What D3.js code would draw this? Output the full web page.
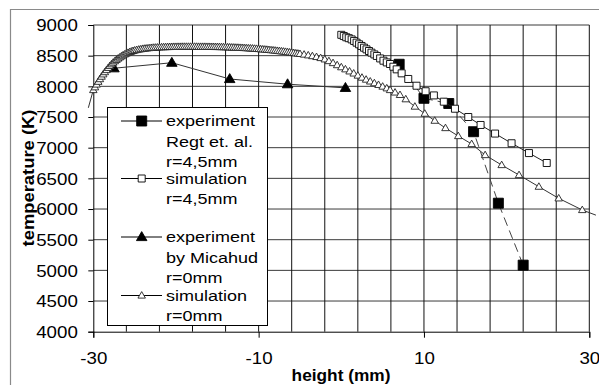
<!DOCTYPE html>
<html><head><meta charset="utf-8">
<script src="https://cdn.jsdelivr.net/npm/d3@7"></script>
<style>body{margin:0;background:#fff}svg{display:block}text{font-family:"Liberation Sans",Arial,sans-serif;fill:#000}</style>
</head><body><svg id="c" width="599" height="385"></svg>
<script>
// ---- data ----
const regtX = [7, 10, 13, 16, 19, 22];
const regtT = [8360, 7805, 7720, 7260, 6095, 5085];

const simR45X = [0.0,0.3,0.6,0.9,1.25,1.55,1.85,2.15,2.45,2.75,3.05,3.35,3.65,4.0,4.3,4.7,5.1,5.5,5.9,6.3,6.7,7.3,8.1,9.1,10.2,11.2,12.4,13.75,15.36,16.85,18.6,20.6,22.7,24.85];
const simR45T = [8840,8820,8800,8785,8765,8740,8712,8685,8658,8630,8603,8576,8549,8520,8495,8455,8418,8390,8364,8320,8277,8212,8120,8010,7920,7852,7750,7635,7500,7370,7230,7072,6912,6750];

const micX = [-27.5, -20.5, -13.5, -6.5, 0.5];
const micT = [8295, 8385, 8120, 8035, 7975];

const simR0X = [-30.6,-30.0,-29.8,-29.6,-29.4,-29.2,-29.0,-28.8,-28.6,-28.4,-28.2,-28.0,-27.8,-27.6,-27.4,-27.2,-27.0,-26.8,-26.6,-26.4,-26.2,-26.0,-25.8,-25.6,-25.4,-25.2,
 -25.0,-24.75,-24.5,-24.25,-24.0,-23.75,-23.5,-23.25,-23.0,-22.75,-22.5,-22.25,-22.0,-21.75,-21.5,-21.25,-21.0,-20.75,-20.5,-20.25,-20.0,-19.75,-19.5,-19.25,-19.0,-18.75,-18.5,-18.25,-18.0,-17.75,-17.5,-17.25,-17.0,-16.75,-16.5,-16.25,-16.0,-15.75,-15.5,-15.25,-15.0,-14.75,-14.5,-14.25,-14.0,-13.75,-13.5,-13.25,-13.0,-12.75,-12.5,-12.25,-12.0,-11.75,-11.5,-11.25,-11.0,-10.75,-10.5,-10.25,-10.0,-9.75,-9.5,-9.25,-9.0,-8.75,-8.5,-8.25,-8.0,-7.75,-7.5,-7.25,-7.0,-6.75,-6.5,-6.25,-6.0,-5.75,-5.5,-5.25,-5.0,
 -4.5,-4.0,-3.5,-3.0,-2.5,-2.0,-1.5,-1.0,-0.5,0.0,0.5,1.0,1.5,2.0,2.5,3.0,3.5,4.0,4.5,5.0,5.5,5.9,6.5,7.1,7.8,8.9,10.1,11.3,12.6,14.15,15.77,17.4,19.4,21.5,23.9,26.3,29.15,30.8];
const simR0T = [7650,7940,7985,8030,8075,8118,8158,8196,8232,8266,8300,8332,8360,8386,8410,8432,8453,8472,8490,8506,8521,8535,8547,8558,8568,8577,
 8585,8593,8600,8606,8612,8616,8620,8624,8627,8630,8632,8634,8636,8638,8639,8640,8641,8642,8643,8644,8644,8645,8645,8646,8646,8646,8646,8646,8646,8646,8646,8645,8645,8645,8645,8644,8644,8643,8643,8642,8642,8641,8640,8639,8638,8637,8636,8634,8633,8631,8630,8628,8627,8625,8623,8621,8619,8617,8614,8612,8609,8606,8603,8600,8597,8594,8590,8587,8583,8579,8575,8571,8567,8563,8558,8554,8549,8544,8539,8534,8529,
 8518,8506,8493,8479,8462,8440,8412,8380,8346,8312,8278,8244,8210,8176,8142,8110,8080,8052,8024,7996,7968,7940,7900,7860,7790,7670,7555,7440,7320,7190,7060,6880,6717,6554,6364,6174,5984,5900];

const xTickLabels = [-30, -10, 10, 30];
const xGrid = [-26,-22,-18,-14,-10,-6,-2,2,6,10,14,18,22,26,30];
const yTicks = [4000,4500,5000,5500,6000,6500,7000,7500,8000,8500,9000];
const yGrid = [4500,5000,5500,6000,6500,7000,7500,8000,8500,9000];
const legendLabels = [["experiment","Regt et. al.","r=4,5mm"],["simulation","r=4,5mm"],["experiment","by Micahud","r=0mm"],["simulation","r=0mm"]];
const xTitle = "height (mm)";
const yTitle = "temperature (K)";

// ---- layout ----
const svg = d3.select("#c");
const PL = 93.3, PR = 589.3, PT = 25, PB = 331.7;
const x = d3.scaleLinear().domain([-30, 30]).range([PL, PR]);
const y = d3.scaleLinear().domain([4000, 9000]).range([PB, PT]);

// gridlines (drawn straight from the scales)
svg.append("g").selectAll("line").data(yGrid).join("line")
  .attr("x1", PL).attr("x2", PR).attr("y1", d => y(d)).attr("y2", d => y(d))
  .attr("stroke", "#3a3a3a").attr("stroke-width", 1);
svg.append("g").selectAll("line").data(xGrid).join("line")
  .attr("y1", PT).attr("y2", PB).attr("x1", d => x(d)).attr("x2", d => x(d))
  .attr("stroke", "#111").attr("stroke-width", 1);

// outer chart border
svg.append("path").attr("d", "M10.5,400V9.5H620").attr("fill", "none").attr("stroke", "#8a8a8a").attr("stroke-width", 1.2);

// axes
const gy = svg.append("g").attr("transform", `translate(${PL},0)`)
  .call(d3.axisLeft(y).tickValues(yTicks).tickSize(5).tickFormat(d3.format("d")));
const gx = svg.append("g").attr("transform", `translate(0,${PB})`)
  .call(d3.axisBottom(x).tickValues(xTickLabels).tickSize(6).tickFormat(d => String(d)));
[gx, gy].forEach(g => {
  g.select(".domain").attr("stroke", "#000");
  g.selectAll(".tick line").attr("stroke", "#000");
});
const SX = 1.17;
gy.selectAll(".tick text").attr("font-size", 16).attr("x", null).attr("dy", null)
  .attr("transform", `translate(-15.5,5.7) scale(${SX},1)`).attr("text-anchor", "end");
gx.selectAll(".tick text").attr("font-size", 16).attr("y", null).attr("dy", null)
  .attr("transform", `translate(0,32) scale(${SX},1)`).attr("text-anchor", "middle");
svg.selectAll(".tick text").attr("font-family", '"Liberation Sans",Arial,sans-serif').attr("fill", "#000");

// axis titles
svg.append("text").attr("transform", `translate(341,381) scale(1.08,1)`).attr("text-anchor", "middle")
  .attr("font-size", 16).attr("font-weight", "bold").text(xTitle);
svg.append("text").attr("transform", `translate(33.5,178) rotate(-90) scale(1.15,1)`).attr("text-anchor", "middle")
  .attr("font-size", 16).attr("font-weight", "bold").text(yTitle);

// ---- series ----
const line = d3.line().x(d => x(d[0])).y(d => y(d[1]));
const zip = (a, b) => a.map((v, i) => [v, b[i]]);
const inDom = d => d[0] >= -30 && d[0] <= 30;

const sq = s => `M${-s/2},${-s/2}h${s}v${s}h${-s}Z`;
const tri = (w, h) => `M0,${-h*0.6}L${w/2},${h*0.4}L${-w/2},${h*0.4}Z`;

function series(data, opt) {
  const g = svg.append("g");
  g.append("path").attr("d", line(data)).attr("fill", "none")
    .attr("stroke", opt.lc).attr("stroke-width", 1)
    .attr("stroke-dasharray", opt.dash ? opt.dash : null);
  g.selectAll("path.m").data(data.filter(inDom)).join("path").attr("class", "m")
    .attr("transform", d => `translate(${x(d[0])},${y(d[1])})`)
    .attr("d", opt.shape).attr("fill", opt.fill).attr("stroke", opt.stroke).attr("stroke-width", 0.9);
}

const regt = zip(regtX, regtT), s45 = zip(simR45X, simR45T), mic = zip(micX, micT), s0 = zip(simR0X, simR0T);
const styles = [
  {lc: "#444", dash: "9,5", shape: sq(10), fill: "#000", stroke: "#000"},
  {lc: "#222", shape: sq(7), fill: "#fff", stroke: "#000"},
  {lc: "#333", shape: tri(10.5, 9), fill: "#000", stroke: "#000"},
  {lc: "#333", shape: tri(7.5, 6.5), fill: "#fff", stroke: "#222"}
];
series(regt, styles[0]);
series(s45, styles[1]);
series(mic, styles[2]);
series(s0, styles[3]);

// ---- legend ----
const lg = svg.append("g");
lg.append("rect").attr("x", 107.5).attr("y", 107.5).attr("width", 160).attr("height", 218)
  .attr("fill", "#fff").attr("stroke", "#000").attr("stroke-width", 1);
const entryY = [121, 178.5, 237, 295.5];
const lineGap = 20.7;
legendLabels.forEach((labs, i) => {
  const yy = entryY[i];
  const st = styles[i];
  lg.append("line").attr("x1", 121).attr("x2", 162).attr("y1", yy).attr("y2", yy)
    .attr("stroke", "#000").attr("stroke-width", 1);
  lg.append("path").attr("transform", `translate(141.7,${yy})`).attr("d", st.shape)
    .attr("fill", st.fill).attr("stroke", st.stroke).attr("stroke-width", 0.9);
  labs.forEach((t, j) => {
    lg.append("text").attr("transform", `translate(166,${yy + 5 + j * lineGap}) scale(1.2,1)`)
      .attr("font-size", 15).text(t);
  });
});
</script></body></html>
